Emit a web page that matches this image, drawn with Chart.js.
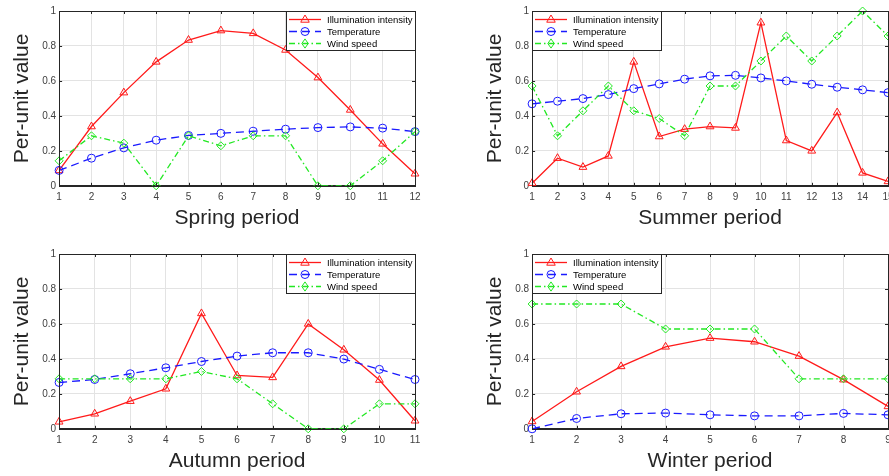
<!DOCTYPE html>
<html>
<head>
<meta charset="utf-8">
<script src="https://cdn.jsdelivr.net/npm/chart.js@4.4.0/dist/chart.umd.min.js"></script>
<style>
html, body { margin: 0; padding: 0; background: #fff; overflow: hidden; width: 889px; height: 476px; }
.panel { position: absolute; }
</style>
</head>
<body>
<div class="panel" style="left:0;top:0"><canvas id="spring" width="445" height="238"></canvas></div>
<div class="panel" style="left:444px;top:0"><canvas id="summer" width="470" height="238"></canvas></div>
<div class="panel" style="left:0;top:243px"><canvas id="autumn" width="445" height="238"></canvas></div>
<div class="panel" style="left:444px;top:243px"><canvas id="winter" width="470" height="238"></canvas></div>
<script>
// ---- data (per-unit values) ----
var seriesNames = ["Illumination intensity", "Temperature", "Wind speed"];
var yTicks = [0, 0.2, 0.4, 0.6, 0.8, 1];

var springPeriods = ["1", "2", "3", "4", "5", "6", "7", "8", "9", "10", "11", "12"];
var springIllum = [0.088, 0.339, 0.533, 0.709, 0.834, 0.888, 0.872, 0.777, 0.619, 0.434, 0.24, 0.069];
var springTemp = [0.088, 0.158, 0.217, 0.261, 0.288, 0.30, 0.312, 0.324, 0.333, 0.337, 0.33, 0.31];
var springWind = [0.143, 0.286, 0.244, 0, 0.286, 0.229, 0.286, 0.286, 0, 0, 0.143, 0.31];

var summerPeriods = ["1", "2", "3", "4", "5", "6", "7", "8", "9", "10", "11", "12", "13", "14", "15"];
var summerIllum = [0.015, 0.158, 0.107, 0.171, 0.709, 0.282, 0.324, 0.339, 0.331, 0.933, 0.259, 0.2, 0.419, 0.074, 0.025];
var summerTemp = [0.469, 0.484, 0.499, 0.522, 0.556, 0.583, 0.61, 0.629, 0.632, 0.617, 0.6, 0.581, 0.564, 0.549, 0.533];
var summerWind = [0.571, 0.286, 0.429, 0.571, 0.429, 0.385, 0.286, 0.571, 0.571, 0.714, 0.857, 0.714, 0.857, 1, 0.857];

var autumnPeriods = ["1", "2", "3", "4", "5", "6", "7", "8", "9", "10", "11"];
var autumnIllum = [0.04, 0.086, 0.158, 0.229, 0.66, 0.305, 0.294, 0.6, 0.452, 0.279, 0.046];
var autumnTemp = [0.265, 0.282, 0.315, 0.349, 0.385, 0.416, 0.435, 0.435, 0.399, 0.34, 0.282];
var autumnWind = [0.286, 0.286, 0.286, 0.286, 0.328, 0.286, 0.143, 0, 0, 0.143, 0.143];

var winterPeriods = ["1", "2", "3", "4", "5", "6", "7", "8", "9"];
var winterIllum = [0.042, 0.212, 0.357, 0.469, 0.519, 0.498, 0.416, 0.281, 0.128];
var winterTemp = [0, 0.059, 0.086, 0.09, 0.08, 0.074, 0.074, 0.088, 0.08];
var winterWind = [0.714, 0.714, 0.714, 0.571, 0.571, 0.571, 0.286, 0.286, 0.286];

var FONT = "'Liberation Sans', Arial, Helvetica, sans-serif";
var AXIS = '#262626';
var RED = '#ff1a1a', BLUE = '#1a1aff', GREEN = '#22e822';

function drawMarker(ctx, style, x, y, r) {
    ctx.beginPath();
    if (style === 'triangle') {
        ctx.moveTo(x, y - r);
        ctx.lineTo(x + r * 0.95, y + r * 0.6);
        ctx.lineTo(x - r * 0.95, y + r * 0.6);
        ctx.closePath();
    } else if (style === 'circle') {
        ctx.arc(x, y, r, 0, Math.PI * 2);
    } else {
        ctx.moveTo(x, y - r * 1.15);
        ctx.lineTo(x + r * 0.8, y);
        ctx.lineTo(x, y + r * 1.15);
        ctx.lineTo(x - r * 0.8, y);
        ctx.closePath();
    }
    ctx.stroke();
}

// box around the axes, inward tick marks and the boxed legend (matlab look)
var matlabFrame = {
    id: 'matlabFrame',
    afterDatasetsDraw: function (chart, args, opts) {
        var ctx = chart.ctx;
        var a = chart.chartArea;
        ctx.save();
        ctx.strokeStyle = AXIS;
        ctx.lineWidth = 1;
        ctx.setLineDash([]);
        ctx.strokeRect(Math.round(a.left) + 0.5, Math.round(a.top) + 0.5, Math.round(a.right - a.left), Math.round(a.bottom - a.top));

        var xs = chart.scales.x, ys = chart.scales.y;
        ctx.beginPath();
        xs.ticks.forEach(function (t, i) {
            var px = Math.round(xs.getPixelForTick(i)) + 0.5;
            ctx.moveTo(px, a.bottom); ctx.lineTo(px, a.bottom - 3);
            ctx.moveTo(px, a.top); ctx.lineTo(px, a.top + 3);
        });
        ys.ticks.forEach(function (t, i) {
            var py = Math.round(ys.getPixelForTick(i)) + 0.5;
            ctx.moveTo(a.left, py); ctx.lineTo(a.left + 3, py);
            ctx.moveTo(a.right, py); ctx.lineTo(a.right - 3, py);
        });
        ctx.stroke();

        // legend
        var w = 129, h = 39;
        var lx = opts.corner === 'right' ? Math.round(a.right) - w : Math.round(a.left);
        var ly = Math.round(a.top);
        ctx.fillStyle = '#fff';
        ctx.fillRect(lx + 0.5, ly + 0.5, w, h);
        ctx.strokeRect(lx + 0.5, ly + 0.5, w, h);
        ctx.font = '9.5px ' + FONT;
        ctx.textBaseline = 'middle';
        var sets = chart.data.datasets;
        for (var i = 0; i < sets.length; i++) {
            var ds = sets[i];
            var ry = ly + 8.5 + i * 12;
            ctx.strokeStyle = ds.borderColor;
            ctx.lineWidth = ds.borderWidth;
            ctx.setLineDash(ds.borderDash || []);
            ctx.beginPath();
            ctx.moveTo(lx + 3, ry); ctx.lineTo(lx + 35, ry);
            ctx.stroke();
            ctx.setLineDash([]);
            ctx.lineWidth = 1;
            drawMarker(ctx, ds.markerName, lx + 19, ry, ds.pointRadius);
            ctx.fillStyle = '#000';
            ctx.fillText(ds.label, lx + 41, ry + 0.5);
        }
        ctx.restore();
    }
};

function makeChart(id, periods, illum, temp, wind, title, corner, pad) {
    var ctx = document.getElementById(id);
    return new Chart(ctx, {
        type: 'line',
        data: {
            labels: periods,
            datasets: [{
                label: seriesNames[0],
                data: illum,
                borderColor: RED,
                borderWidth: 1.3,
                pointStyle: 'triangle',
                markerName: 'triangle',
                pointRadius: 4.5,
                pointBorderWidth: 1,
                pointBackgroundColor: 'rgba(255,255,255,0)',
                pointBorderColor: RED,
                tension: 0,
                clip: false,
                order: 3
            }, {
                label: seriesNames[1],
                data: temp,
                borderColor: BLUE,
                borderWidth: 1.3,
                borderDash: [8, 5],
                pointStyle: 'circle',
                markerName: 'circle',
                pointRadius: 4,
                pointBorderWidth: 1,
                pointBackgroundColor: 'rgba(255,255,255,0)',
                pointBorderColor: BLUE,
                tension: 0,
                clip: false,
                order: 2
            }, {
                label: seriesNames[2],
                data: wind,
                borderColor: GREEN,
                borderWidth: 1.3,
                borderDash: [6, 3, 1.5, 3],
                pointStyle: 'rectRot',
                markerName: 'diamond',
                pointRadius: 4,
                pointBorderWidth: 1,
                pointBackgroundColor: 'rgba(255,255,255,0)',
                pointBorderColor: GREEN,
                tension: 0,
                clip: false,
                order: 1
            }]
        },
        options: {
            responsive: false,
            animation: false,
            events: [],
            layout: { padding: pad },
            plugins: {
                legend: { display: false },
                tooltip: { enabled: false },
                matlabFrame: { corner: corner }
            },
            scales: {
                x: {
                    type: 'category',
                    offset: false,
                    grid: { color: '#e3e3e3', drawTicks: false },
                    border: { color: AXIS },
                    ticks: { color: '#404040', font: { family: FONT, size: 10 }, padding: 5, maxRotation: 0, autoSkip: false },
                    title: { display: true, text: title, color: '#262626', font: { family: FONT, size: 21 }, padding: { top: -2, bottom: 4 } }
                },
                y: {
                    min: 0,
                    max: 1,
                    afterBuildTicks: function (scale) {
                        scale.ticks = yTicks.map(function (v) { return { value: v }; });
                    },
                    grid: { color: '#e3e3e3', drawTicks: false },
                    border: { color: AXIS },
                    ticks: {
                        color: '#404040', font: { family: FONT, size: 10 }, padding: 3,
                        callback: function (v) { return String(+Number(v).toFixed(1)); }
                    },
                    title: { display: true, text: 'Per-unit value', color: '#262626', font: { family: FONT, size: 21 }, padding: { top: 4, bottom: 4 } }
                }
            }
        },
        plugins: [matlabFrame]
    });
}

makeChart('spring', springPeriods, springIllum, springTemp, springWind, 'Spring period', 'right', { left: 6, right: 30, top: 11, bottom: 3 });
makeChart('summer', summerPeriods, summerIllum, summerTemp, summerWind, 'Summer period', 'left', { left: 35, right: 26, top: 11, bottom: 3 });
makeChart('autumn', autumnPeriods, autumnIllum, autumnTemp, autumnWind, 'Autumn period', 'right', { left: 6, right: 30, top: 11, bottom: 3 });
makeChart('winter', winterPeriods, winterIllum, winterTemp, winterWind, 'Winter period', 'left', { left: 35, right: 26, top: 11, bottom: 3 });
</script>
</body>
</html>
